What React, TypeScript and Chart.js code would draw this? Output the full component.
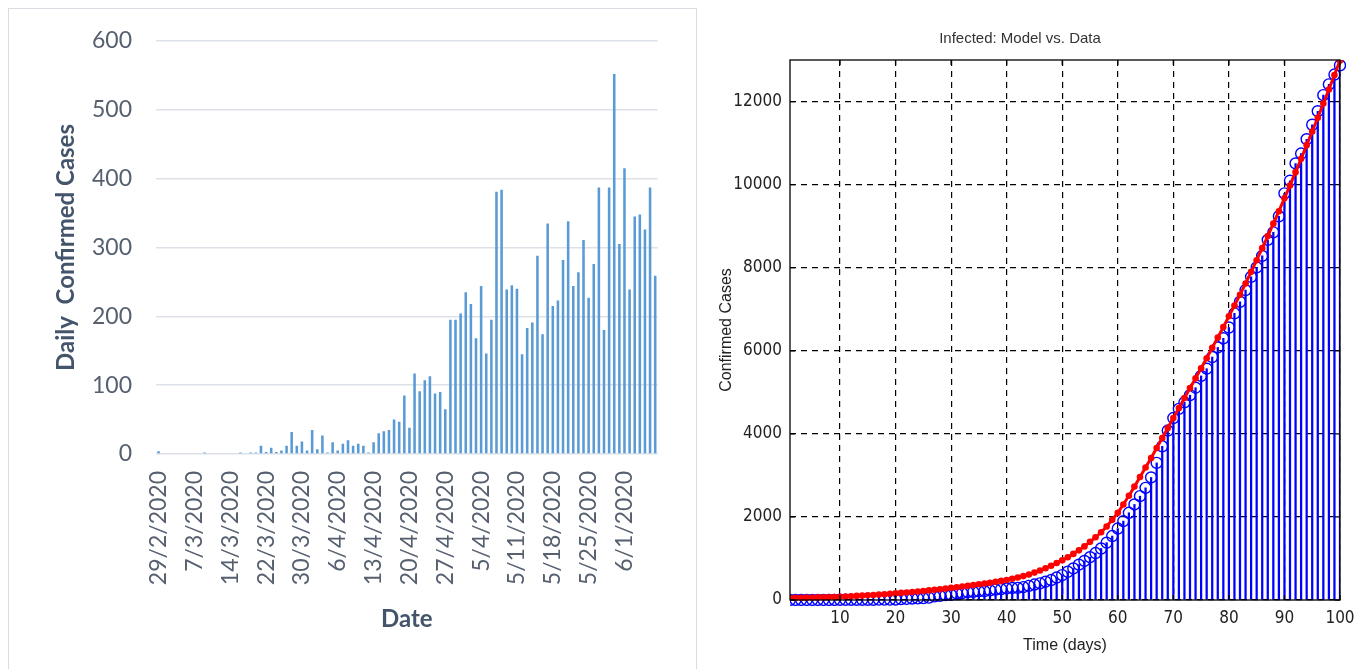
import React, { useEffect, useRef } from 'react';
import { Chart, registerables } from 'chart.js';

Chart.register(...registerables);

// ---------- Left panel: daily confirmed cases ----------
const dailyCases = [
  4, 0, 0, 0, 0, 0, 0, 0, 0, 2,
  0, 0, 0, 0, 0, 0, 2, 0, 2, 2,
  12, 3, 9, 3, 5, 12, 32, 12, 18, 5,
  35, 7, 27, 2, 17, 5, 15, 20, 12, 15,
  12, 2, 17, 30, 33, 35, 50, 47, 85, 38,
  117, 91, 107, 113, 88, 90, 65, 195, 195, 204,
  235, 218, 168, 244, 146, 195, 381, 384, 239, 245,
  240, 145, 183, 191, 288, 174, 335, 215, 223, 282,
  338, 244, 264, 311, 227, 276, 387, 180, 387, 552,
  305, 415, 239, 345, 348, 326, 387, 259,
];

const dateTickLabels = [
  '29/2/2020', '7/3/2020', '14/3/2020', '22/3/2020', '30/3/2020', '6/4/2020', '13/4/2020',
  '20/4/2020', '27/4/2020', '5/4/2020', '5/11/2020', '5/18/2020', '5/25/2020', '6/1/2020',
];
const dateTickEvery = 7;

// ---------- Right panel: cumulative data vs. model ----------
const dataCumulative = [
  4, 4, 4, 4, 4, 4, 4, 4, 4, 6,
  6, 6, 6, 6, 6, 6, 8, 8, 10, 12,
  24, 27, 36, 39, 44, 56, 88, 100, 118, 123,
  158, 165, 192, 194, 211, 216, 231, 251, 263, 278,
  290, 292, 309, 339, 372, 400, 440, 480, 540, 600,
  680, 760, 850, 940, 1030, 1130, 1240, 1380, 1540, 1720,
  1900, 2100, 2300, 2500, 2700, 2950, 3300, 3700, 4080, 4380,
  4600, 4760, 4930, 5110, 5394, 5568, 5850, 6080, 6300, 6560,
  6900, 7180, 7460, 7780, 8007, 8283, 8670, 8850, 9237, 9789,
  10094, 10509, 10748, 11093, 11441, 11767, 12154, 12413, 12650, 12870,
];

const modelCumulative = [
  50, 52, 55, 57, 60, 62, 65, 70, 74, 80,
  86, 92, 99, 106, 114, 122, 131, 140, 150, 160,
  171, 182, 193, 205, 218, 231, 245, 260, 275, 292,
  308, 325, 342, 360, 378, 397, 417, 438, 460, 483,
  510, 540, 575, 615, 660, 710, 765, 825, 890, 955,
  1030, 1110, 1195, 1290, 1400, 1510, 1630, 1770, 1930, 2100,
  2300, 2510, 2730, 2960, 3190, 3420, 3660, 3900, 4140, 4380,
  4620, 4860, 5100, 5340, 5580, 5820, 6070, 6320, 6570, 6830,
  7090, 7350, 7620, 7900, 8180, 8470, 8760, 9060, 9360, 9670,
  9980, 10300, 10620, 10950, 11280, 11610, 11950, 12290, 12640, 12990,
];

const timeTicks = [10, 20, 30, 40, 50, 60, 70, 80, 90, 100];
const caseTicks = [0, 2000, 4000, 6000, 8000, 10000, 12000];

const LEFT_TEXT = '#56606f';
const LEFT_TITLE = '#44546a';
const NARROW = "'Liberation Sans Narrow', 'DejaVu Sans Condensed', 'Liberation Sans', Arial, sans-serif";
const SANS = "'Liberation Sans', Arial, sans-serif";

const frameBox = {
  id: 'frameBox',
  afterDatasetsDraw(chart: any) {
    const { ctx, chartArea: a, scales } = chart;
    ctx.save();
    ctx.strokeStyle = '#000';
    ctx.lineWidth = 1.3;
    ctx.setLineDash([]);
    ctx.strokeRect(a.left, a.top, a.right - a.left, a.bottom - a.top);
    ctx.beginPath();
    const tl = 5;
    timeTicks.forEach((v) => {
      const px = scales.x.getPixelForValue(v);
      ctx.moveTo(px, a.bottom);
      ctx.lineTo(px, a.bottom - tl);
      ctx.moveTo(px, a.top);
      ctx.lineTo(px, a.top + tl);
    });
    caseTicks.forEach((v) => {
      const py = scales.y.getPixelForValue(v);
      ctx.moveTo(a.left, py);
      ctx.lineTo(a.left + tl, py);
      ctx.moveTo(a.right, py);
      ctx.lineTo(a.right - tl, py);
    });
    ctx.stroke();
    ctx.restore();
  },
};

function DailyChart() {
  const ref = useRef<HTMLCanvasElement | null>(null);
  useEffect(() => {
    if (!ref.current) return;
    const chart = new Chart(ref.current, {
      type: 'bar',
      data: {
        labels: dailyCases.map((_, i) => String(i)),
        datasets: [
          {
            data: dailyCases,
            backgroundColor: '#5b9bd5',
            categoryPercentage: 1,
            barPercentage: 0.5,
          },
        ],
      },
      options: {
        responsive: false,
        animation: false,
        layout: { padding: { top: 41, right: 40, left: 0, bottom: 0 } },
        plugins: { legend: { display: false }, tooltip: { enabled: false } },
        scales: {
          x: {
            type: 'category',
            grid: { display: false, drawTicks: false },
            border: { display: false },
            ticks: {
              autoSkip: false,
              minRotation: 90,
              maxRotation: 90,
              padding: 17,
              color: LEFT_TEXT,
              font: { family: 'Lato', size: 23 },
              callback: (_v: any, i: number) =>
                i % dateTickEvery === 0 ? dateTickLabels[i / dateTickEvery] ?? '' : '',
            },
            title: {
              display: true,
              text: 'Date',
              color: LEFT_TITLE,
              font: { family: 'Lato', size: 24, weight: 'bold' },
              padding: { top: 0, bottom: 35 },
            },
            afterFit: (s: any) => {
              s.height = 215;
            },
          },
          y: {
            min: 0,
            max: 600,
            grid: { color: '#dde2e9', lineWidth: 1.6, drawTicks: false },
            border: { display: false },
            ticks: {
              stepSize: 100,
              padding: 24,
              color: LEFT_TEXT,
              font: { family: 'Lato', size: 23 },
            },
            title: {
              display: true,
              text: 'Daily  Confirmed Cases',
              color: LEFT_TITLE,
              font: { family: 'Lato', size: 24, weight: 'bold' },
              padding: { top: 52, bottom: 0 },
            },
            afterFit: (s: any) => {
              s.width = 156;
            },
          },
        },
      } as any,
    });
    return () => chart.destroy();
  }, []);
  return <canvas ref={ref} width={700} height={669} style={{ position: 'absolute', left: 0, top: 0, width: 700, height: 669 }} />;
}

function ModelChart() {
  const ref = useRef<HTMLCanvasElement | null>(null);
  useEffect(() => {
    if (!ref.current) return;
    const days = dataCumulative.map((_, i) => i + 1);
    const gridOpts = { color: '#000', lineWidth: 1.2, drawTicks: false, offset: false, borderDash: [6, 5] };
    const borderOpts = { display: false, dash: [6, 5] };
    const chart = new Chart(ref.current, {
      type: 'line',
      data: {
        datasets: [
          {
            type: 'bar',
            data: days.map((d, i) => ({ x: d, y: dataCumulative[i] })),
            backgroundColor: '#0000ff',
            barThickness: 1.6,
            order: 3,
          },
          {
            type: 'line',
            data: days.map((d, i) => ({ x: d, y: dataCumulative[i] })),
            showLine: false,
            pointStyle: 'circle',
            pointRadius: 5.5,
            pointBorderColor: '#0000ff',
            pointBackgroundColor: 'rgba(0,0,0,0)',
            pointBorderWidth: 1.4,
            clip: { left: 0, top: 0, right: 6, bottom: 6 },
            order: 2,
          },
          {
            type: 'line',
            data: days.map((d, i) => ({ x: d, y: modelCumulative[i] })),
            borderColor: '#ff0000',
            borderWidth: 3,
            pointStyle: 'circle',
            pointRadius: 3.3,
            pointBackgroundColor: '#ff0000',
            pointBorderColor: '#ff0000',
            pointBorderWidth: 0,
            clip: { left: 0, top: 0, right: 6, bottom: 6 },
            order: 1,
          },
        ],
      },
      options: {
        responsive: false,
        animation: false,
        layout: { padding: { top: 0, right: 23, left: 0, bottom: 0 } },
        plugins: {
          legend: { display: false },
          tooltip: { enabled: false },
          title: {
            display: true,
            text: 'Infected: Model vs. Data',
            color: '#333',
            font: { family: SANS, size: 15, weight: 'normal' },
            padding: { top: 30, bottom: 12 },
          },
        },
        scales: {
          x: {
            type: 'linear',
            min: 1,
            max: 100,
            offset: false,
            grid: gridOpts,
            border: borderOpts,
            afterBuildTicks: (s: any) => {
              s.ticks = timeTicks.map((v) => ({ value: v }));
            },
            ticks: {
              padding: 8,
              color: '#222',
              font: { family: NARROW, size: 17 },
              callback: (v: any) => String(v),
            },
            title: {
              display: true,
              text: 'Time (days)',
              color: '#222',
              font: { family: SANS, size: 16 },
              padding: { top: 0, bottom: 14 },
            },
            afterFit: (s: any) => {
              s.height = 69;
            },
          },
          y: {
            type: 'linear',
            min: 0,
            max: 13000,
            grid: gridOpts,
            border: borderOpts,
            afterBuildTicks: (s: any) => {
              s.ticks = caseTicks.map((v) => ({ value: v }));
            },
            ticks: {
              padding: 8,
              color: '#222',
              font: { family: NARROW, size: 17 },
              callback: (v: any) => String(v),
            },
            title: {
              display: true,
              text: 'Confirmed Cases',
              color: '#222',
              font: { family: SANS, size: 16 },
              padding: { top: 17, bottom: 0 },
            },
            afterFit: (s: any) => {
              s.width = 90;
            },
          },
        },
      } as any,
      plugins: [frameBox],
    });
    return () => chart.destroy();
  }, []);
  return <canvas ref={ref} width={663} height={669} style={{ position: 'absolute', left: 700, top: 0, width: 663, height: 669 }} />;
}

export default function App() {
  return (
    <div
      style={{
        position: 'fixed',
        left: 0,
        top: 0,
        width: 1363,
        height: 669,
        overflow: 'hidden',
        background: '#fff',
      }}
    >
      <div
        style={{
          position: 'absolute',
          left: 8,
          top: 8,
          width: 687,
          height: 700,
          border: '1px solid #d9dde3',
        }}
      />
      <DailyChart />
      <ModelChart />
    </div>
  );
}
